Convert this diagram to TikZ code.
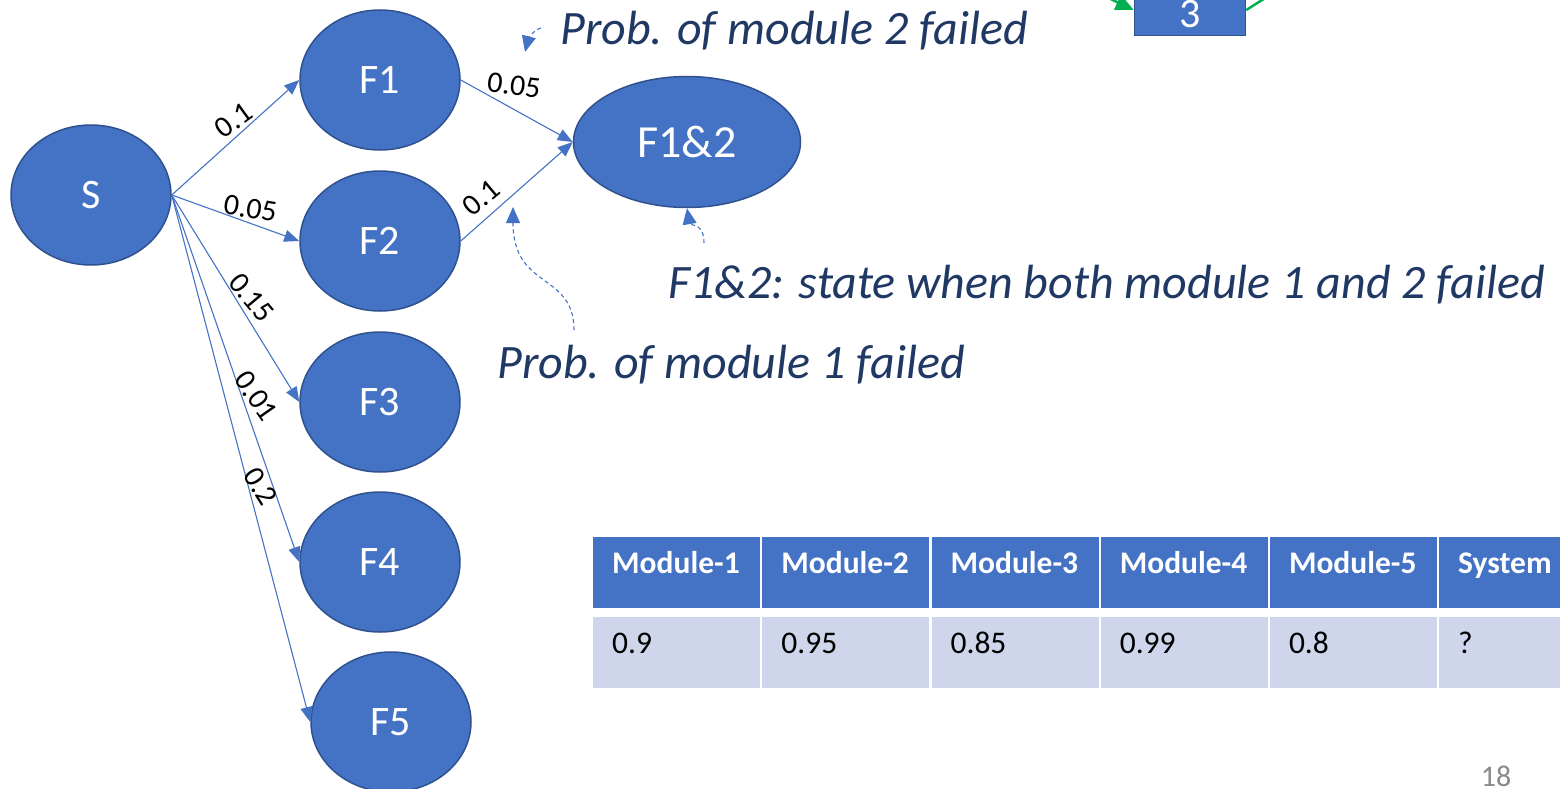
\documentclass[tikz,border=0pt]{standalone}
\usepackage{fontspec}
\setmainfont{Carlito}
\usetikzlibrary{shapes.geometric, arrows.meta}
\definecolor{stateblue}{HTML}{4472C4}
\definecolor{stateline}{HTML}{2F528F}
\definecolor{notenavy}{HTML}{1F3864}
\definecolor{rowblue}{HTML}{CFD5EA}
\definecolor{flowgreen}{HTML}{00B050}
\definecolor{pagegray}{HTML}{898989}
\newcommand{\px}[1]{\fontsize{#1}{#1}\selectfont}

\begin{document}
\begin{tikzpicture}[x=1pt, y=-1pt,
  state/.style={ellipse, draw=stateline, line width=1.5pt, fill=stateblue, text=white,
    minimum width=160pt, minimum height=140pt, inner sep=0pt, font=\px{42}},
  trans/.style={stateblue, line width=1.1pt, -{Triangle[length=15pt,width=12pt]}},
  prob/.style={font=\px{30}, text=black, inner sep=4pt},
  note/.style={font=\px{48}\itshape, text=notenavy, anchor=base west, inner sep=0pt},
  hint/.style={stateblue, line width=1.1pt, dash pattern=on 4pt off 3pt,
    -{Triangle[length=16pt,width=14pt]}},
  cell/.style={anchor=north west, minimum width=167pt, inner xsep=19pt, inner ysep=0pt,
    text height=36pt, text depth=35pt},
  head/.style={cell, fill=stateblue, text=white, font=\px{31.5}\bfseries},
  body/.style={cell, fill=rowblue, font=\px{31.5}},
]
  \useasboundingbox (0,0) rectangle (1560,789);
  \clip (0,0) rectangle (1560,789);

  % states
  \node[state] (S)  at (91,195)  {S};
  \node[state] (F1) at (380,80)  {F1};
  \node[state] (F2) at (380,241) {F2};
  \node[state] (F3) at (380,402) {F3};
  \node[state] (F4) at (380,562) {F4};
  \node[state] (F5) at (391,722) {F5};
  \node[state, minimum width=227pt, minimum height=131pt, font=\px{46}] (F12) at (687,142) {F1\&2};

  % transitions
  \draw[trans] (S.east) -- (F1.west) node[prob, pos=.55, above, rotate=36] {0.1};
  \draw[trans] (S.east) -- (F2.west) node[prob, pos=.6, above, rotate=-9] {0.05};
  \draw[trans] (S.east) -- (F3.west) node[prob, pos=.54, above, rotate=-50] {0.15};
  \draw[trans] (S.east) -- (F4.west) node[prob, pos=.57, above, rotate=-55] {0.01};
  \draw[trans] (S.east) -- (F5.west) node[prob, pos=.565, above, rotate=-58, inner sep=2pt] {0.2};
  \draw[trans] (F1.east) -- (F12.west) node[prob, pos=.46, above=9pt, rotate=-7] {0.05};
  \draw[trans] (F2.east) -- (F12.west) node[prob, pos=.265, above=6pt, rotate=40] {0.1};

  % notes
  \node[note] (n1txt) at (497,378) {Prob. of module 1 failed};
  \node[note] (n2txt) at (668,298) {F1\&2: state when both module 1 and 2 failed};
  \node[note] (n3txt) at (560,45)  {Prob. of module 2 failed};
  \coordinate (n1) at (574,330);
  \coordinate (e1) at (513,207);
  \coordinate (n2) at (704,243);
  \coordinate (n3) at (541,28);
  \coordinate (e3) at (525,52);
  \draw[hint] (n1) .. controls (574,272) and (513,290) .. (e1);
  \draw[hint] (n2) .. controls (704,222) and (690,226) .. (F12.south);
  \draw[hint] (n3) .. controls (533,30) and (528,40) .. (e3);

  % block 3
  \node[draw=stateline, line width=1.5pt, fill=stateblue, text=white, font=\px{42},
    minimum width=111pt, minimum height=43pt, inner sep=0pt] (B3) at (1190,14) {3};
  \coordinate (gin) at (1100,-6);
  \coordinate (gout) at (1270,-5);
  \draw[flowgreen, line width=2.5pt, -{Triangle[length=18pt,width=16pt]}] (gin) -- ([yshift=4pt]B3.west);
  \draw[flowgreen, line width=2.5pt] ([yshift=4pt]B3.east) -- (gout);

  % reliability table
  \foreach \mod/\rel [count=\c from 0] in {Module-1/0.9, Module-2/0.95, Module-3/0.85,
      Module-4/0.99, Module-5/0.8, System/?} {
    \node[head] (h\c) at ({593+169.2*\c},537) {\makebox[129pt][l]{\mod}};
    \node[body] (r\c) at ({593+169.2*\c},617) {\makebox[129pt][l]{\rel}};
  }

  \node[font=\px{30}, text=pagegray, inner sep=0pt] (page) at (1496,776) {18};
\end{tikzpicture}
\end{document}
